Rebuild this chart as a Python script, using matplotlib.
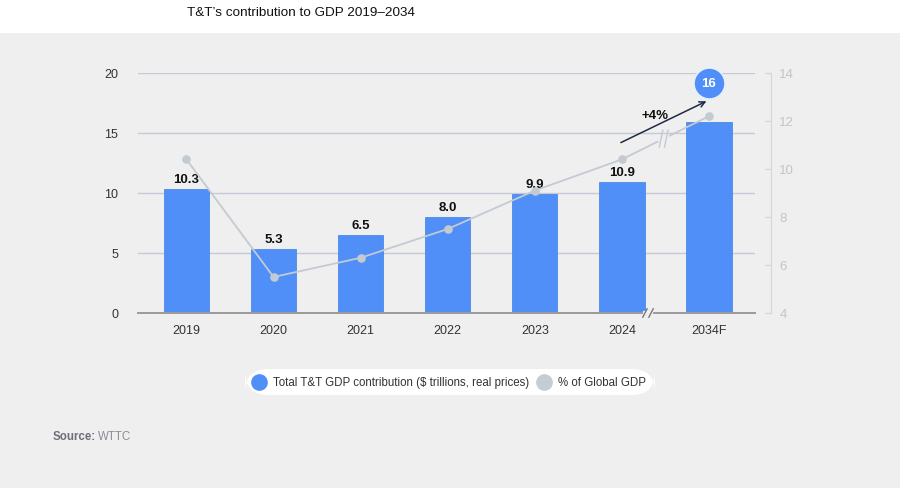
import numpy as np
import matplotlib
matplotlib.use('Agg')
import matplotlib.pyplot as plt
from matplotlib.patches import Rectangle, FancyBboxPatch
from matplotlib.lines import Line2D

plt.rcParams['font.family'] = ['Liberation Sans', 'DejaVu Sans']

# data
years = ['2019', '2020', '2021', '2022', '2023', '2024', '2034F']
gdp_contrib = [10.3, 5.3, 6.5, 8.0, 9.9, 10.9, 15.9]
gdp_labels = ['10.3', '5.3', '6.5', '8.0', '9.9', '10.9', '16']
share_global = [10.4, 5.5, 6.3, 7.5, 9.1, 10.4, 12.2]
growth_label = '+4%'

BLUE = '#4f8ff7'
GREY_LINE = '#c3cad2'
BG = '#efefef'

fig = plt.figure(figsize=(9, 4.89), dpi=100, facecolor=BG)
# white band behind the title
fig.patches.append(Rectangle((0, 1 - 34 / 489), 1, 34 / 489, transform=fig.transFigure,
                             facecolor='white', edgecolor='none', zorder=0))
fig.text(301 / 900, 1 - 13 / 489, "T&T\u2019s contribution to GDP 2019\u20132034", ha='center', va='center',
         fontsize=9.7, color='#111111', fontweight='medium')

ax = fig.add_axes([0.153, 1 - 314 / 489, 0.686, 240 / 489])
ax.set_facecolor('none')
x = np.arange(len(years))

ax.bar(x, gdp_contrib, width=0.52, color=BLUE, edgecolor='#3f7fe6', linewidth=0.5, zorder=3)
for xi, v, lab in zip(x[:-1], gdp_contrib[:-1], gdp_labels[:-1]):
    ax.text(xi, v + 0.35, lab, ha='center', va='bottom', fontsize=9.5, fontweight='bold', color='#111111', zorder=6)

ax.set_xlim(-0.56, 6.53)
ax.set_ylim(0, 20)
ax.set_yticks([0, 5, 10, 15, 20])
ax.grid(axis='y', color='#c5cbd6', linewidth=1, zorder=0)
ax.set_axisbelow(True)
for s in ['top', 'right', 'left']:
    ax.spines[s].set_visible(False)
ax.spines['bottom'].set_color('#9a9a9a')
ax.spines['bottom'].set_linewidth(1.4)
ax.spines['bottom'].set_zorder(4)
ax.tick_params(axis='y', length=0, pad=14, labelsize=9, labelcolor='#333333')
ax.tick_params(axis='x', length=0, pad=8, labelsize=9, labelcolor='#333333')
ax.set_xticks(x)
ax.set_xticklabels(years)

# secondary axis for share of global GDP
ax2 = ax.twinx()
ax2.plot(x, share_global, color=GREY_LINE, linewidth=1.3, marker='o', markersize=5.2,
         markerfacecolor=GREY_LINE, markeredgecolor=GREY_LINE, zorder=5)
ax2.set_ylim(4, 14)
ax2.set_yticks([4, 6, 8, 10, 12, 14])
for s in ['top', 'left', 'bottom']:
    ax2.spines[s].set_visible(False)
ax2.spines['right'].set_position(('outward', 11.5))
ax2.spines['right'].set_color('#d3d7dd')
ax2.tick_params(axis='y', direction='in', length=4, width=1, color='#d3d7dd', pad=6,
                labelsize=9.5, labelcolor='#c4c4c4')
ax2.set_zorder(ax.get_zorder() + 1)
ax2.patch.set_visible(False)

# break marks on the x axis
xb = 5.3
ax.add_line(Line2D([xb - 0.03, xb + 0.03], [0, 0], color=BG, linewidth=3, zorder=7, clip_on=False))
for dx in (-0.035, 0.035):
    ax.add_line(Line2D([xb + dx - 0.025, xb + dx + 0.025], [-0.35, 0.35], color='#7a7a7a',
                       linewidth=1, zorder=8, clip_on=False))

# break marks on the line
xl = 5.48
yl = share_global[5] + (share_global[6] - share_global[5]) * (xl - 5)
ax2.add_line(Line2D([xl - 0.035, xl + 0.035], [yl - 0.05, yl + 0.05], color=BG, linewidth=4, zorder=7))
for dx in (-0.03, 0.03):
    ax2.add_line(Line2D([xl + dx - 0.02, xl + dx + 0.02], [yl - 0.35, yl + 0.35], color=GREY_LINE,
                        linewidth=1, zorder=8))

# growth arrow and label
ax.annotate('', xy=(6.0, 17.75), xytext=(4.96, 14.1),
            arrowprops=dict(arrowstyle='->', color='#1f2a44', linewidth=1.1), zorder=8)
ax.text(5.38, 16.5, growth_label, ha='center', va='center', fontsize=9.5, fontweight='bold', color='#111111')

# bubble with 2034 value
ax.scatter([6], [19.15], s=500, color=BLUE, edgecolor='#e8eefc', linewidth=1.2, zorder=9, clip_on=False)
ax.text(6, 19.15, gdp_labels[-1], ha='center', va='center', fontsize=9.5, fontweight='bold', color='white', zorder=10)

# legend pill
fig.patches.append(FancyBboxPatch((245 / 900, 1 - 396 / 489), 410 / 900, 26 / 489,
                                  boxstyle='round,pad=0,rounding_size=0.026', transform=fig.transFigure,
                                  facecolor='white', edgecolor='none', zorder=1,
                                  mutation_aspect=900 / 489))
ly = 1 - 383 / 489
fig.add_artist(Line2D([259 / 900], [ly], marker='o', markersize=11, color=BLUE, linestyle='none'))
fig.text(273 / 900, ly, 'Total T&T GDP contribution ($ trillions, real prices)', ha='left', va='center',
         fontsize=8.3, color='#333333')
fig.add_artist(Line2D([544 / 900], [ly], marker='o', markersize=11, color='#c5ccd3', linestyle='none'))
fig.text(558 / 900, ly, '% of Global GDP', ha='left', va='center', fontsize=8.3, color='#333333')

# source
fig.text(53 / 900, 1 - 437 / 489, 'Source:', ha='left', va='center', fontsize=8.3,
         fontweight='bold', color='#6e6e7a')
fig.text(98 / 900, 1 - 437 / 489, 'WTTC', ha='left', va='center', fontsize=8.3, color='#8c8c96')

fig.savefig('out.png', dpi=100, facecolor=BG)
